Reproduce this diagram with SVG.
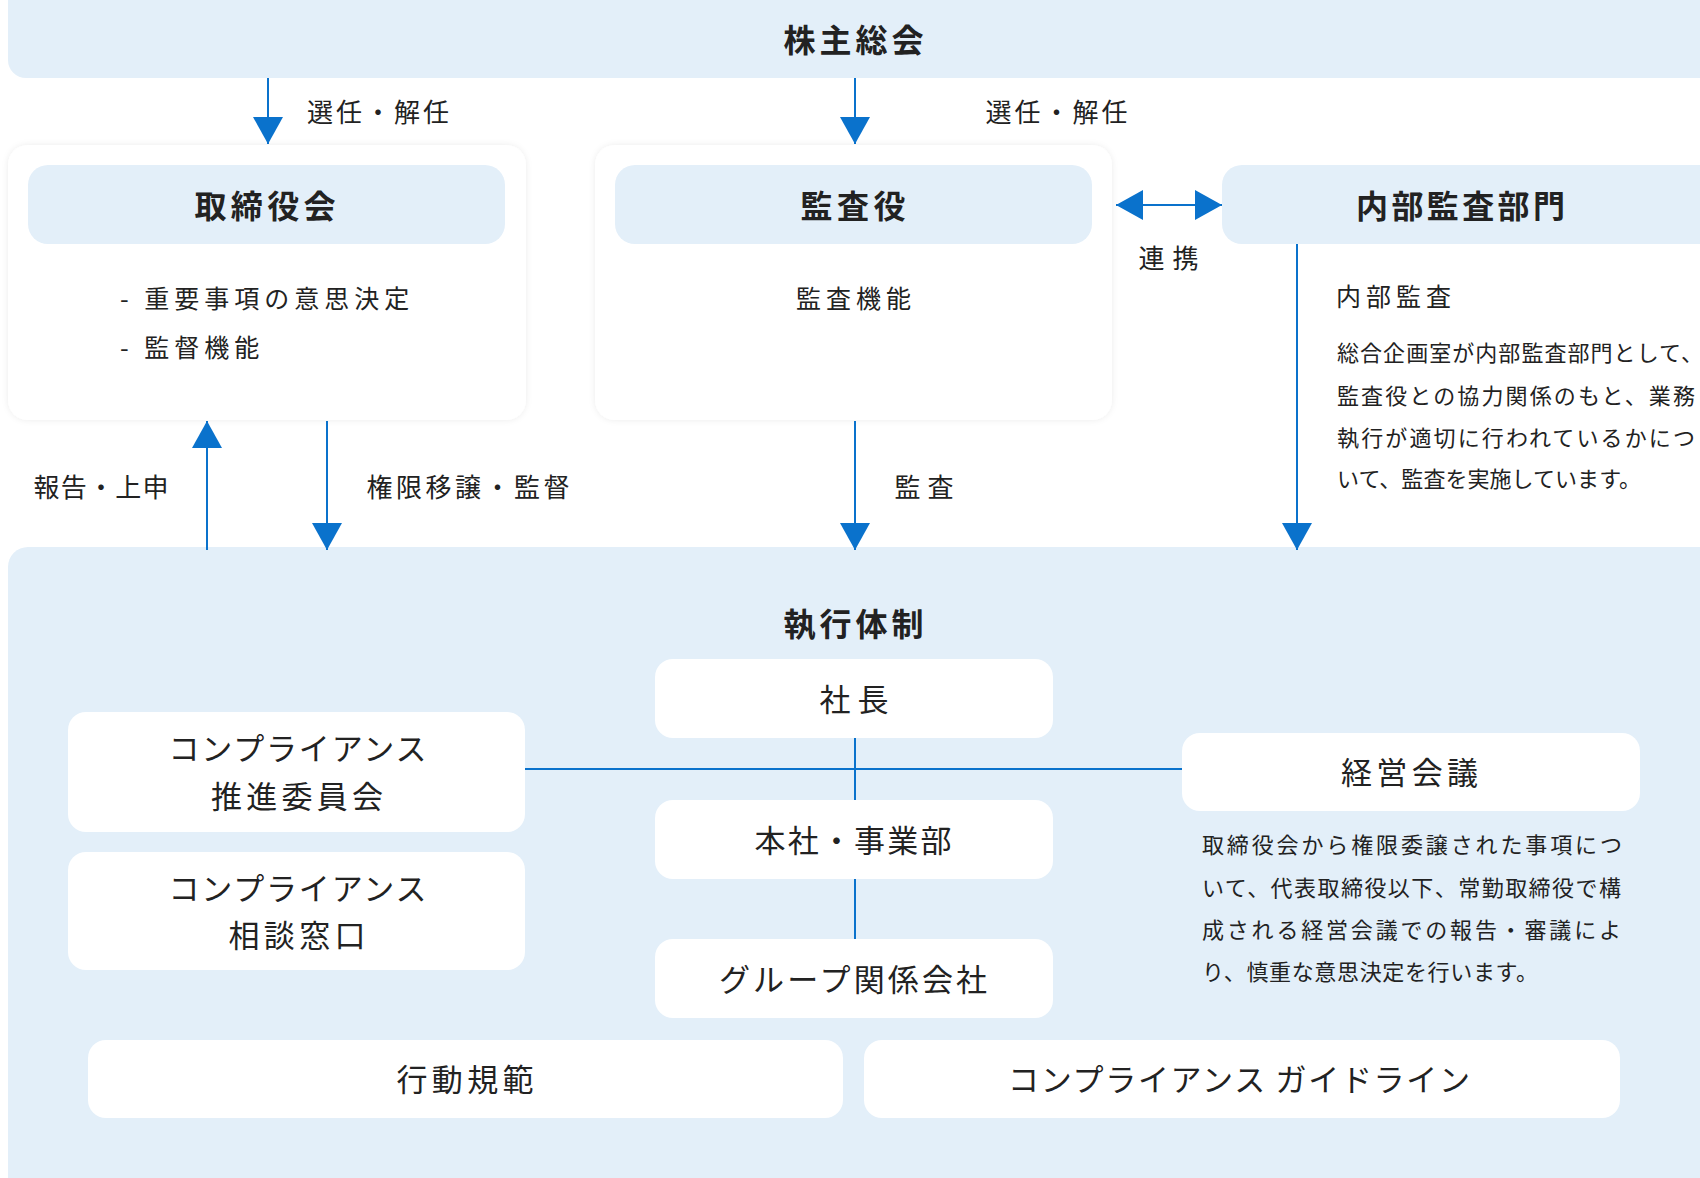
<svg xmlns="http://www.w3.org/2000/svg" width="1700" height="1178" viewBox="0 0 1700 1178">
<style>
text{font-family:"Noto Sans CJK JP","Noto Sans",sans-serif;fill:#222}
.h{font-size:32px;font-weight:700;text-anchor:middle;dominant-baseline:central}
.b{font-size:31px;text-anchor:middle;dominant-baseline:central}
.t{font-size:25px;letter-spacing:5px;dominant-baseline:central}
.tc{font-size:25px;letter-spacing:5px;text-anchor:middle;dominant-baseline:central}
.l{font-size:26px;dominant-baseline:central}
.p{font-size:22px;dominant-baseline:central}
.blue{fill:#E3EFF9}
.white{fill:#fff}
.ln{stroke:#0A72CC;stroke-width:2;fill:none}
</style>
<defs>
<filter id="sh" x="-5%" y="-5%" width="110%" height="110%">
<feDropShadow dx="0" dy="0" stdDeviation="3" flood-color="#000" flood-opacity="0.08"/>
</filter>
<marker id="ah" viewBox="0 0 27 30" refX="27" refY="15" markerWidth="27" markerHeight="30" markerUnits="userSpaceOnUse" orient="auto-start-reverse">
<path d="M0,0 L27,15 L0,30 z" fill="#0A72CC"/>
</marker>
</defs>

<g id="shareholders">
<rect class="blue" x="8" y="-20" width="1712" height="98" rx="18"/>
<text class="h" x="853.5" y="38" textLength="140" lengthAdjust="spacing">株主総会</text>
</g>

<g id="board">
<rect class="white" x="8" y="145" width="518" height="275" rx="20" filter="url(#sh)"/>
<rect class="blue" x="28" y="165" width="477" height="79" rx="20"/>
<text class="h" x="265" y="204" textLength="141" lengthAdjust="spacing">取締役会</text>
<text class="t" x="120" y="297">- 重要事項の意思決定</text>
<text class="t" x="120" y="346">- 監督機能</text>
</g>

<g id="auditor">
<rect class="white" x="595" y="145" width="517" height="275" rx="20" filter="url(#sh)"/>
<rect class="blue" x="615" y="165" width="477" height="79" rx="20"/>
<text class="h" x="853" y="204" textLength="105" lengthAdjust="spacing">監査役</text>
<text class="tc" x="856" y="297">監査機能</text>
</g>

<g id="internal-audit">
<rect class="blue" x="1222" y="165" width="500" height="79" rx="20"/>
<text class="h" x="1460.5" y="204" textLength="209" lengthAdjust="spacing">内部監査部門</text>
<text class="t" x="1336" y="295">内部監査</text>
<text class="p" x="1337" y="351" textLength="366" lengthAdjust="spacing">総合企画室が内部監査部門として、</text>
<text class="p" x="1337" y="393.5" textLength="358" lengthAdjust="spacing">監査役との協力関係のもと、業務</text>
<text class="p" x="1337" y="435.5" textLength="358" lengthAdjust="spacing">執行が適切に行われているかにつ</text>
<text class="p" x="1337" y="477" textLength="304" lengthAdjust="spacing">いて、監査を実施しています。</text>
</g>

<g id="execution">
<rect class="blue" x="8" y="547" width="1712" height="660" rx="20"/>
<text class="h" x="853.5" y="622" textLength="140" lengthAdjust="spacing">執行体制</text>
</g>

<g id="connectors">
<line class="ln" x1="268" y1="78" x2="268" y2="144" marker-end="url(#ah)"/>
<line class="ln" x1="855" y1="78" x2="855" y2="144" marker-end="url(#ah)"/>
<line class="ln" x1="1116" y1="205" x2="1222" y2="205" marker-start="url(#ah)" marker-end="url(#ah)"/>
<line class="ln" x1="1297" y1="244" x2="1297" y2="550" marker-end="url(#ah)"/>
<line class="ln" x1="207" y1="550" x2="207" y2="421" marker-end="url(#ah)"/>
<line class="ln" x1="327" y1="421" x2="327" y2="550" marker-end="url(#ah)"/>
<line class="ln" x1="855" y1="421" x2="855" y2="550" marker-end="url(#ah)"/>
<line class="ln" x1="855" y1="738" x2="855" y2="939"/>
<line class="ln" x1="525" y1="769" x2="1182" y2="769"/>
<text class="l" x="307" y="110" textLength="142" lengthAdjust="spacing">選任・解任</text>
<text class="l" x="985.5" y="110" textLength="142" lengthAdjust="spacing">選任・解任</text>
<text class="l" x="1138.5" y="256" textLength="60" lengthAdjust="spacing">連携</text>
<text class="l" x="33.5" y="485" textLength="135" lengthAdjust="spacing">報告・上申</text>
<text class="l" x="366.5" y="485" textLength="203" lengthAdjust="spacing">権限移譲・監督</text>
<text class="l" x="894.5" y="485" textLength="59" lengthAdjust="spacing">監査</text>
</g>

<g id="president">
<rect class="white" x="655" y="659" width="398" height="79" rx="18"/>
<text class="b" x="854" y="697" textLength="69" lengthAdjust="spacing">社長</text>
</g>

<g id="headquarters">
<rect class="white" x="655" y="800" width="398" height="79" rx="18"/>
<text class="b" x="853" y="838" textLength="197" lengthAdjust="spacing">本社・事業部</text>
</g>

<g id="group">
<rect class="white" x="655" y="939" width="398" height="79" rx="18"/>
<text class="b" x="853" y="977" textLength="268" lengthAdjust="spacing">グループ関係会社</text>
</g>

<g id="compliance-committee">
<rect class="white" x="68" y="712" width="457" height="120" rx="18"/>
<text class="b" x="297.5" y="746" textLength="258" lengthAdjust="spacing">コンプライアンス</text>
<text class="b" x="297" y="794" textLength="172" lengthAdjust="spacing">推進委員会</text>
</g>

<g id="compliance-desk">
<rect class="white" x="68" y="852" width="457" height="118" rx="18"/>
<text class="b" x="297.5" y="886" textLength="258" lengthAdjust="spacing">コンプライアンス</text>
<text class="b" x="297" y="933" textLength="137" lengthAdjust="spacing">相談窓口</text>
</g>

<g id="management-meeting">
<rect class="white" x="1182" y="733" width="458" height="78" rx="18"/>
<text class="b" x="1409.5" y="770" textLength="137" lengthAdjust="spacing">経営会議</text>
<text class="p" x="1202" y="843" textLength="420" lengthAdjust="spacing">取締役会から権限委譲された事項につ</text>
<text class="p" x="1202" y="885.5" textLength="419" lengthAdjust="spacing">いて、代表取締役以下、常勤取締役で構</text>
<text class="p" x="1202" y="928" textLength="419" lengthAdjust="spacing">成される経営会議での報告・審議によ</text>
<text class="p" x="1202" y="970" textLength="336" lengthAdjust="spacing">り、慎重な意思決定を行います。</text>
</g>

<g id="code-of-conduct">
<rect class="white" x="88" y="1040" width="755" height="78" rx="18"/>
<text class="b" x="465" y="1077" textLength="137" lengthAdjust="spacing">行動規範</text>
</g>

<g id="guideline">
<rect class="white" x="864" y="1040" width="756" height="78" rx="18"/>
<text class="b" x="1239" y="1077" textLength="462" lengthAdjust="spacing">コンプライアンス ガイドライン</text>
</g>
</svg>
